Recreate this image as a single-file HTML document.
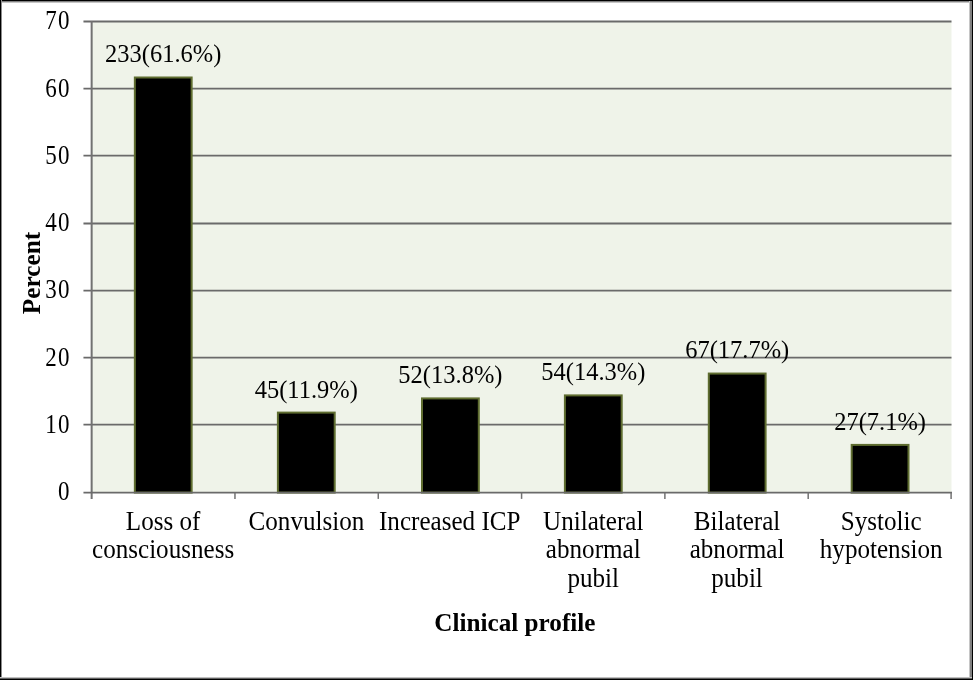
<!DOCTYPE html><html><head><meta charset="utf-8"><title>Clinical profile</title>
<style>html,body{margin:0;padding:0;background:#fff;overflow:hidden}svg{display:block}text{font-family:"Liberation Serif","Times New Roman",serif;fill:#000}.b{font-weight:bold}</style></head><body>
<svg width="973" height="681" viewBox="0 0 973 681">
<rect x="0" y="0" width="973" height="681" fill="#fff"/>
<rect x="91.65" y="21.5" width="859.85" height="471.10" fill="#eff3e9"/>
<line x1="83.45" y1="424.60" x2="951.5" y2="424.60" stroke="#6a6a6a" stroke-width="1.8"/>
<line x1="83.45" y1="357.60" x2="951.5" y2="357.60" stroke="#6a6a6a" stroke-width="1.8"/>
<line x1="83.45" y1="290.55" x2="951.5" y2="290.55" stroke="#6a6a6a" stroke-width="1.8"/>
<line x1="83.45" y1="223.50" x2="951.5" y2="223.50" stroke="#6a6a6a" stroke-width="1.8"/>
<line x1="83.45" y1="155.60" x2="951.5" y2="155.60" stroke="#6a6a6a" stroke-width="1.8"/>
<line x1="83.45" y1="88.55" x2="951.5" y2="88.55" stroke="#6a6a6a" stroke-width="1.8"/>
<line x1="83.45" y1="21.50" x2="951.5" y2="21.50" stroke="#6a6a6a" stroke-width="1.8"/>
<rect x="134.85" y="77.50" width="56.8" height="415.10" fill="#000" stroke="#5f6d30" stroke-width="2"/>
<rect x="277.90" y="412.60" width="56.8" height="80.00" fill="#000" stroke="#5f6d30" stroke-width="2"/>
<rect x="422.00" y="398.40" width="56.8" height="94.20" fill="#000" stroke="#5f6d30" stroke-width="2"/>
<rect x="564.90" y="395.40" width="56.8" height="97.20" fill="#000" stroke="#5f6d30" stroke-width="2"/>
<rect x="708.80" y="373.55" width="56.8" height="119.05" fill="#000" stroke="#5f6d30" stroke-width="2"/>
<rect x="851.70" y="444.90" width="56.8" height="47.70" fill="#000" stroke="#5f6d30" stroke-width="2"/>
<line x1="91.65" y1="20.9" x2="91.65" y2="498.90000000000003" stroke="#727272" stroke-width="2"/>
<line x1="83.45" y1="492.6" x2="952.0" y2="492.6" stroke="#6a6a6a" stroke-width="1.8"/>
<line x1="234.96" y1="492.6" x2="234.96" y2="498.90000000000003" stroke="#727272" stroke-width="1.5"/>
<line x1="378.27" y1="492.6" x2="378.27" y2="498.90000000000003" stroke="#727272" stroke-width="1.5"/>
<line x1="521.58" y1="492.6" x2="521.58" y2="498.90000000000003" stroke="#727272" stroke-width="1.5"/>
<line x1="664.88" y1="492.6" x2="664.88" y2="498.90000000000003" stroke="#727272" stroke-width="1.5"/>
<line x1="808.19" y1="492.6" x2="808.19" y2="498.90000000000003" stroke="#727272" stroke-width="1.5"/>
<line x1="951.10" y1="492.6" x2="951.10" y2="498.90000000000003" stroke="#727272" stroke-width="1.5"/>
<text transform="translate(70.70,500.40) scale(1,1.1522)" font-size="23" text-anchor="end" letter-spacing="1.2">0</text>
<text transform="translate(70.70,433.40) scale(1,1.1522)" font-size="23" text-anchor="end" letter-spacing="1.2">10</text>
<text transform="translate(70.70,366.40) scale(1,1.1522)" font-size="23" text-anchor="end" letter-spacing="1.2">20</text>
<text transform="translate(70.70,298.35) scale(1,1.1522)" font-size="23" text-anchor="end" letter-spacing="1.2">30</text>
<text transform="translate(70.70,231.30) scale(1,1.1522)" font-size="23" text-anchor="end" letter-spacing="1.2">40</text>
<text transform="translate(70.70,164.40) scale(1,1.1522)" font-size="23" text-anchor="end" letter-spacing="1.2">50</text>
<text transform="translate(70.70,97.45) scale(1,1.1522)" font-size="23" text-anchor="end" letter-spacing="1.2">60</text>
<text transform="translate(70.70,29.30) scale(1,1.1522)" font-size="23" text-anchor="end" letter-spacing="1.2">70</text>
<text transform="translate(163.25,62.30) scale(1,1.0694)" font-size="24.5" text-anchor="middle">233(61.6%)</text>
<text transform="translate(306.30,397.50) scale(1,1.0694)" font-size="24.5" text-anchor="middle">45(11.9%)</text>
<text transform="translate(450.40,382.60) scale(1,1.0694)" font-size="24.5" text-anchor="middle">52(13.8%)</text>
<text transform="translate(593.30,380.30) scale(1,1.0694)" font-size="24.5" text-anchor="middle">54(14.3%)</text>
<text transform="translate(737.20,358.10) scale(1,1.0694)" font-size="24.5" text-anchor="middle">67(17.7%)</text>
<text transform="translate(880.10,429.50) scale(1,1.0694)" font-size="24.5" text-anchor="middle">27(7.1%)</text>
<text transform="translate(163.10,529.50) scale(1,1.0677)" font-size="25.1" text-anchor="middle">Loss of</text>
<text transform="translate(163.10,558.00) scale(1,1.0677)" font-size="25.1" text-anchor="middle">consciousness</text>
<text transform="translate(306.41,529.50) scale(1,1.0677)" font-size="25.1" text-anchor="middle">Convulsion</text>
<text transform="translate(449.72,529.50) scale(1,1.0677)" font-size="25.1" text-anchor="middle">Increased ICP</text>
<text transform="translate(593.23,529.50) scale(1,1.0677)" font-size="25.1" text-anchor="middle">Unilateral</text>
<text transform="translate(593.23,558.00) scale(1,1.0677)" font-size="25.1" text-anchor="middle">abnormal</text>
<text transform="translate(593.23,586.50) scale(1,1.0677)" font-size="25.1" text-anchor="middle">pubil</text>
<text transform="translate(737.04,529.50) scale(1,1.0677)" font-size="25.1" text-anchor="middle">Bilateral</text>
<text transform="translate(737.04,558.00) scale(1,1.0677)" font-size="25.1" text-anchor="middle">abnormal</text>
<text transform="translate(737.04,586.50) scale(1,1.0677)" font-size="25.1" text-anchor="middle">pubil</text>
<text transform="translate(881.15,529.50) scale(1,1.0677)" font-size="25.1" text-anchor="middle">Systolic</text>
<text transform="translate(881.15,558.00) scale(1,1.0677)" font-size="25.1" text-anchor="middle">hypotension</text>
<text class="b" transform="translate(514.90,631.20) scale(1,1.0079)" font-size="25.2" text-anchor="middle">Clinical profile</text>
<text class="b" transform="translate(39.70,273.00) rotate(-90) scale(1,1.0119)" font-size="25.3" text-anchor="middle">Percent</text>
<rect x="0" y="0" width="973" height="1" fill="#000"/>
<rect x="0" y="1" width="973" height="1" fill="#828282"/>
<rect x="0" y="2" width="973" height="1" fill="#c6c6c6"/>
<rect x="0" y="0" width="1" height="681" fill="#000"/>
<rect x="1" y="0" width="1" height="680" fill="#8c8c8c"/>
<rect x="969" y="1" width="1" height="677" fill="#c6c6c6"/>
<rect x="970" y="1" width="2" height="678" fill="#808080"/>
<rect x="972" y="0" width="1" height="680" fill="#000"/>
<rect x="0" y="677" width="972" height="1" fill="#c0c0c0"/>
<rect x="0" y="678" width="972" height="1" fill="#606060"/>
<rect x="0" y="679" width="973" height="1" fill="#000"/>
<rect x="0" y="680" width="973" height="1" fill="#fff"/>
</svg></body></html>
